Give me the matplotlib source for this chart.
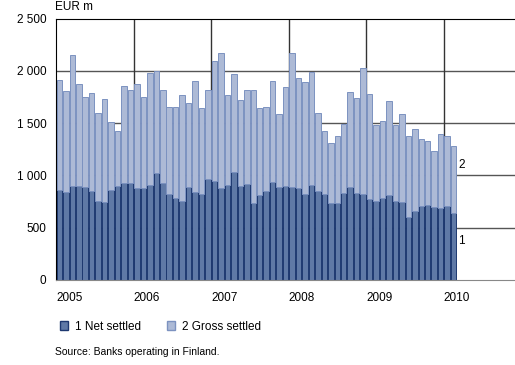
import matplotlib
matplotlib.use("Agg")
import matplotlib.pyplot as plt
import numpy as np
from matplotlib.patches import Patch

plt.rcParams['font.family'] = ['Liberation Sans', 'DejaVu Sans']

# Monthly values, Jan 2005 - Feb 2010 (EUR m)
net = [857, 845, 902, 902, 893, 854, 758, 749, 861, 896, 925, 925,
       883, 877, 912, 1024, 925, 825, 787, 758, 886, 838, 825, 969,
       950, 880, 912, 1037, 902, 921, 739, 816, 854, 937, 886, 902,
       886, 877, 819, 909, 851, 819, 739, 733, 835, 886, 832, 825,
       771, 758, 784, 816, 758, 749, 605, 662, 710, 717, 694, 688,
       707, 640]
total = [1913, 1811, 2153, 1871, 1747, 1791, 1593, 1734, 1510, 1427, 1855, 1817,
         1871, 1747, 1980, 2000, 1817, 1657, 1657, 1766, 1689, 1907, 1648, 1814,
         2092, 2175, 1769, 1967, 1724, 1814, 1817, 1648, 1651, 1903, 1590, 1846,
         2175, 1935, 1894, 1993, 1593, 1427, 1308, 1376, 1494, 1801, 1737, 2025,
         1775, 1484, 1516, 1715, 1484, 1590, 1376, 1440, 1350, 1328, 1232, 1401,
         1376, 1280]
gross = [t - n for t, n in zip(total, net)]
years = ['2005', '2006', '2007', '2008', '2009', '2010']
yticks = [0, 500, 1000, 1500, 2000, 2500]

dark = '#5f79a6'
dark_edge = '#1d3870'
light = '#adbad6'
light_edge = '#7c92c0'

fig = plt.figure(figsize=(5.15, 3.65), dpi=100)
ax = fig.add_axes([0.109, 0.233, 0.891, 0.716])

x = np.arange(len(net)) + 0.5
ax.bar(x, net, width=0.85, color=dark, edgecolor=dark_edge, linewidth=0.7, zorder=2)
ax.bar(x, gross, bottom=net, width=0.85, color=light, edgecolor=light_edge, linewidth=0.7, zorder=2)

for v in yticks[1:-1]:
    ax.axhline(v, color='#555555', linewidth=1.0, zorder=1)
for k in range(1, 6):
    ax.axvline(12 * k, color='#333333', linewidth=1.0, zorder=1)

ax.set_xlim(0, 71)
ax.set_ylim(0, 2500)
ax.set_yticks(yticks)
ax.set_yticklabels(['0', '500', '1 000', '1 500', '2 000', '2 500'], fontsize=8.5)
ax.set_xticks([12 * k for k in range(6)])
ax.set_xticklabels(years, fontsize=8.5, ha='left')
ax.tick_params(length=0, pad=7)
ax.tick_params(axis='x', pad=9)

ax.spines['right'].set_visible(False)
ax.spines['bottom'].set_color('#888888')
ax.spines['left'].set_color('black')
ax.spines['top'].set_color('black')

ax.text(len(net) + 0.2, 1100, '2', fontsize=8.5, va='center')
ax.text(len(net) + 0.2, 375, '1', fontsize=8.5, va='center')
fig.text(0.107, 0.965, 'EUR m', fontsize=8.5, va='bottom')

handles = [Patch(facecolor=dark, edgecolor=dark_edge), Patch(facecolor=light, edgecolor=light_edge)]
fig.legend(handles, ['1 Net settled', '2 Gross settled'], loc='center left',
           bbox_to_anchor=(0.095, 0.105), ncol=2, frameon=False, fontsize=8.5,
           handlelength=0.7, handleheight=0.7, handletextpad=0.6, columnspacing=2.2)
fig.text(0.107, 0.035, 'Source: Banks operating in Finland.', fontsize=7.5, va='center')

fig.savefig('out.png', dpi=100)
